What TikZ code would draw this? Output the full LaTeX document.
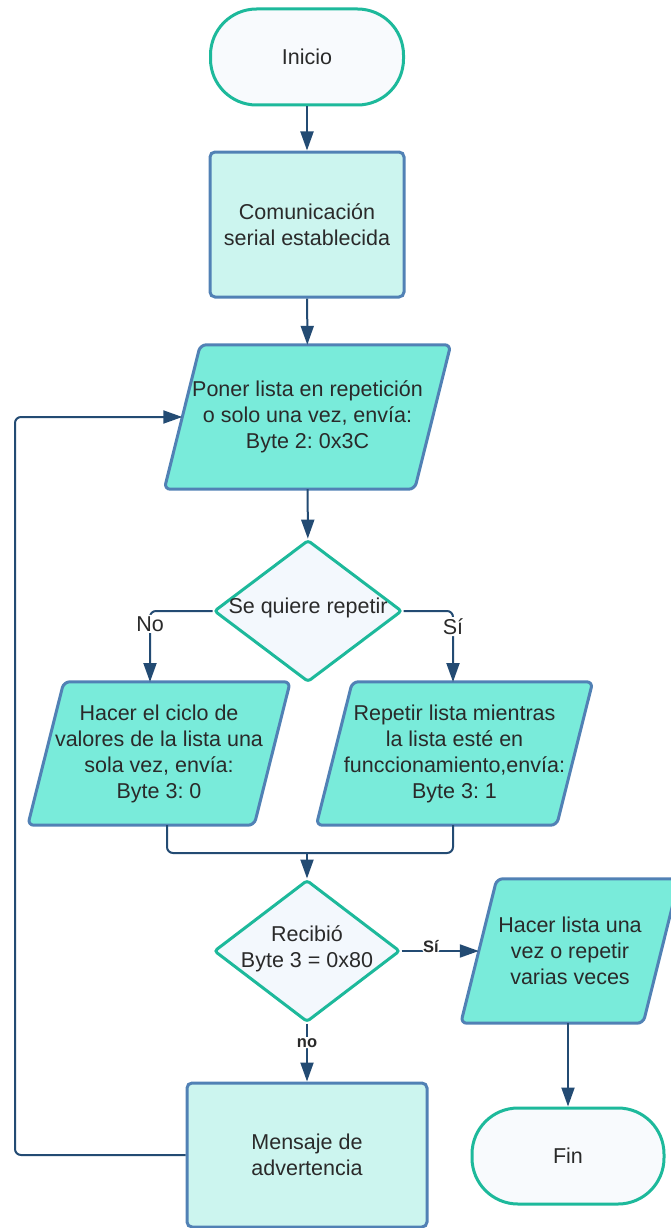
\documentclass[tikz,border=0pt]{standalone}
\usepackage{fontspec}
\setmainfont{Liberation Sans}
\usetikzlibrary{shapes.geometric, arrows.meta, calc, backgrounds}
\frenchspacing
\definecolor{fcteal}{HTML}{1DB99B}
\definecolor{fcblue}{HTML}{5181B5}
\definecolor{fcnavy}{HTML}{234B73}
\definecolor{fcproc}{HTML}{CCF5EF}
\definecolor{fciofill}{HTML}{79EBDA}
\definecolor{fctermfill}{HTML}{F8FAFD}
\definecolor{fcdecfill}{HTML}{F3F8FD}
\definecolor{fctext}{HTML}{2A2A2A}
\newcommand\fcfont{\fontsize{21.5}{26}\selectfont}
\newcommand\fclblfont{\fontsize{16.5}{19}\selectfont\bfseries}
\newcommand\ioframe[2]{%
  \begin{pgfonlayer}{background}
  \draw[fcioframe] ([xshift=#2]#1.north west) -- ([xshift=#2]#1.north east)
     -- ([xshift=-#2]#1.south east) -- ([xshift=-#2]#1.south west) -- cycle;
  \end{pgfonlayer}}
\begin{document}
\begin{tikzpicture}[x=1pt,y=-1pt,
  fcterm/.style={draw=fcteal, line width=3pt, fill=fctermfill, rounded corners=46pt,
     minimum width=193pt, minimum height=96pt, text=fctext, font=\fcfont, align=center},
  fcbox/.style={draw=fcblue, line width=3pt, fill=fcproc, rounded corners=5pt,
     minimum height=145pt, text=fctext, font=\fcfont, align=center},
  fcio/.style={inner sep=0pt, minimum height=144pt, text=fctext, font=\fcfont, align=center},
  fcioframe/.style={draw=fcblue, line width=3pt, fill=fciofill, rounded corners=6pt},
  fcdec/.style={diamond, draw=fcteal, line width=3pt, fill=fcdecfill, rounded corners=3pt,
     minimum width=188pt, minimum height=142pt, inner sep=0pt},
  fctxt/.style={text=fctext, font=\fcfont, align=center, inner sep=0pt},
  fcconn/.style={draw=fcnavy, line width=2pt, rounded corners=6pt},
  fcarr/.style={fcconn, -{Triangle[length=19pt,width=13pt]}},
  fclbl/.style={fill=white, inner sep=1.5pt, text=fctext, font=\fcfont},
  fcblbl/.style={fill=white, inner sep=1pt, text=fctext, font=\fclblfont}
]
\useasboundingbox (0,0) rectangle (670,1228);

% nodes
\node[fcterm] (inicio) at (307,57) {Inicio};
\node[fcbox, minimum width=194pt] (b1) at (307,224.5) {Comunicación\\serial establecida};
\node[fcio, minimum width=250pt] (p1) at (307.5,417) {Poner lista en repetición\\o solo una vez, envía:\\Byte 2: 0x3C};
\ioframe{p1}{18pt}
\node[fcdec] (d1) at (308,611) {};
\node[fctxt] (d1t) at (308,608) {Se quiere repetir};
\node[fcio, minimum width=226pt, minimum height=143pt] (p2) at (159,753.5) {Hacer el ciclo de\\valores de la lista una\\sola vez, envía:\\Byte 3: 0};
\ioframe{p2}{18pt}
\node[fcio, minimum width=240pt, minimum height=143pt] (p3) at (454.5,753.5) {Repetir lista mientras\\la lista esté en\\funccionamiento,envía:\\Byte 3: 1};
\ioframe{p3}{18pt}
\node[fcdec, minimum width=186pt] (d2) at (307,951) {};
\node[fctxt] (d2t) at (307,949) {Recibió\\Byte 3 = 0x80};
\node[fcio, minimum width=182pt] (p4) at (570,951) {Hacer lista una\\vez o repetir\\varias veces};
\ioframe{p4}{18pt}
\node[fcterm, minimum width=192pt] (fin) at (568,1156) {Fin};
\node[fcbox, minimum width=240pt, minimum height=144pt] (msg) at (307,1155) {Mensaje de\\advertencia};

% helper coordinates
\coordinate (p2in) at (150,682);
\coordinate (p3in) at (453,682);
\coordinate (p2out) at (167,825);
\coordinate (p3out) at (453,825);
\coordinate (mj) at (307,853);
\coordinate (lpx) at (15,800);

% connectors
\draw[fcarr] (inicio) -- (b1);
\draw[fcarr] (b1) -- (p1);
\draw[fcarr] (p1) -- (d1);
\draw[fcarr] (d1.west) -| node[fclbl, pos=0.59] {No} (p2in);
\draw[fcarr] (d1.east) -| node[fclbl, pos=0.61] {Sí} (p3in);
\draw[fcconn] (p2out) |- (mj);
\draw[fcconn] (p3out) |- (mj);
\draw[fcarr] (mj) -- (d2.north);
\draw[fcarr] (d2.east) -- node[fcblbl, pos=0.38, yshift=4pt] {Sí} (p4.west);
\draw[fcarr] (p4.south -| fin.north) -- (fin.north);
\draw[fcarr] (d2.south) -- node[fcblbl, pos=0.33] {no} (msg.north);
\draw[fcarr] (msg.west) -| (lpx) |- (p1.west);
\end{tikzpicture}
\end{document}
